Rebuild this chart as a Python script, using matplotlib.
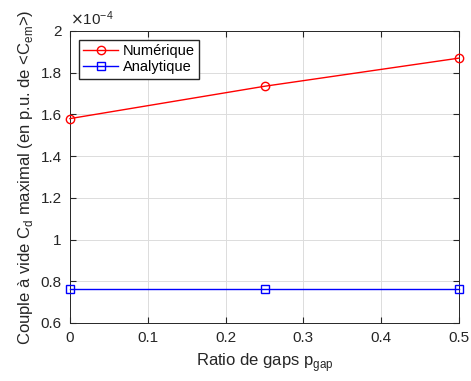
import matplotlib.pyplot as plt
from matplotlib.ticker import FuncFormatter

plt.rcParams['font.family'] = ['Liberation Sans', 'DejaVu Sans']

p_gap = [0, 0.25, 0.5]
numerique = [1.58e-4, 1.735e-4, 1.87e-4]
analytique = [0.765e-4, 0.765e-4, 0.765e-4]

fig = plt.figure(figsize=(4.71, 3.81), dpi=100)
ax = fig.add_axes([70 / 471, 1 - 323 / 381, 389 / 471, 292 / 381])

ax.plot(p_gap, numerique, color='red', marker='o', markerfacecolor='none',
        markersize=6, lw=1, label='Numérique', clip_on=False, zorder=3)
ax.plot(p_gap, analytique, color='blue', marker='s', markerfacecolor='none',
        markersize=5.5, lw=1, label='Analytique', clip_on=False, zorder=3)

ax.set_xlim(0, 0.5)
ax.set_ylim(0.6e-4, 2e-4)
ax.set_xticks([0, 0.1, 0.2, 0.3, 0.4, 0.5])
ax.set_yticks([0.6e-4, 0.8e-4, 1e-4, 1.2e-4, 1.4e-4, 1.6e-4, 1.8e-4, 2e-4])
ax.xaxis.set_major_formatter(FuncFormatter(lambda v, p: f'{v:g}'))
ax.yaxis.set_major_formatter(FuncFormatter(lambda v, p: f'{v * 1e4:g}'))
ax.text(0, 1.01, r'$\times\mathregular{10^{-4}}$', transform=ax.transAxes,
        fontsize=11, color='#262626', va='bottom')

ax.grid(True, color='#dcdcdc', lw=0.7)
ax.set_axisbelow(True)
for s in ax.spines.values():
    s.set_color('#262626')
    s.set_linewidth(0.7)
ax.tick_params(direction='in', length=4, labelsize=11, colors='#262626',
               top=True, right=True, pad=6)

ax.set_xlabel(r'Ratio de gaps p$_{\mathregular{gap}}$', fontsize=12, color='#262626')
ax.set_ylabel(r'Couple à vide C$_{\mathregular{d}}$ maximal (en p.u. de <C$_{\mathregular{em}}$>)',
              fontsize=12, color='#262626')

ax.legend(loc='upper left', fontsize=10.5, fancybox=False, edgecolor='#262626',
          framealpha=1, borderaxespad=0.6, handlelength=2.4, handletextpad=0.3,
          borderpad=0.3, labelspacing=0.15)

fig.savefig('out.png', dpi=100)
